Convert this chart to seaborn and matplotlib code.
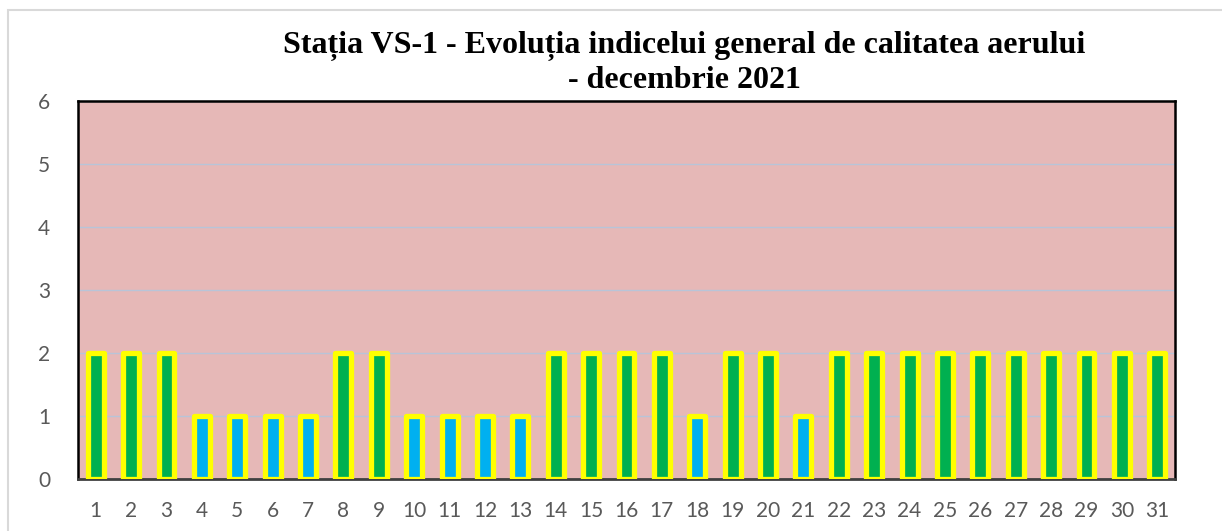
import matplotlib
matplotlib.use("Agg")
import matplotlib.pyplot as plt
import seaborn as sns
import pandas as pd
from matplotlib.patches import Rectangle

days = [str(d) for d in range(1, 32)]
values = [2, 2, 2, 1, 1, 1, 1, 2, 2, 1, 1, 1, 1, 2, 2, 2, 2, 1, 2, 2, 1,
          2, 2, 2, 2, 2, 2, 2, 2, 2, 2]
levels = ["Bun" if v == 2 else "Excelent" for v in values]
title = "Stația VS-1 - Evoluția indicelui general de calitatea aerului\n- decembrie 2021"

df = pd.DataFrame({"zi": days, "indice": values, "nivel": levels})

sns.set_theme(style="white")
plt.rcParams["font.family"] = ["Lato", "DejaVu Sans"]

fig = plt.figure(figsize=(12.22, 5.31), dpi=100)
ax = fig.add_axes([78 / 1222, 1 - 479 / 531, (1175 - 78) / 1222, (479 - 101) / 531])

fig.patches.append(Rectangle((8 / 1222, -0.1), 1.2, (531 - 10) / 531 + 0.1,
                             transform=fig.transFigure, fill=False,
                             edgecolor="#d9d9d9", linewidth=1.5))

ax.set_facecolor("#e6b8b7")
sns.barplot(data=df, x="zi", y="indice", hue="nivel",
            palette={"Bun": "#00b050", "Excelent": "#00b0f0"},
            dodge=False, width=0.45, legend=False, ax=ax, saturation=1,
            edgecolor="#ffff00", linewidth=3.8, zorder=3)
for p in ax.patches:
    p.set_joinstyle("round")

ax.set_ylim(0, 6)
ax.set_yticks(range(0, 7))
ax.grid(axis="y", color="#b8c4d8", linewidth=1, zorder=0)
ax.set_axisbelow(True)
ax.set_xlabel("")
ax.set_ylabel("")
ax.tick_params(axis="both", labelsize=15, colors="#595959", length=0)
ax.tick_params(axis="x", pad=16)
ax.tick_params(axis="y", pad=20)
for s in ["left", "top", "right"]:
    ax.spines[s].set_color("black")
    ax.spines[s].set_linewidth(1.8)
ax.spines["bottom"].set_color("#404040")
ax.spines["bottom"].set_linewidth(2)

fig.text(684 / 1222, 1 - 63 / 531, title, ha="center", va="center",
         fontsize=23, fontweight="bold", family=["Liberation Serif"],
         color="black", linespacing=1.2)

fig.savefig("out.png", dpi=100)
